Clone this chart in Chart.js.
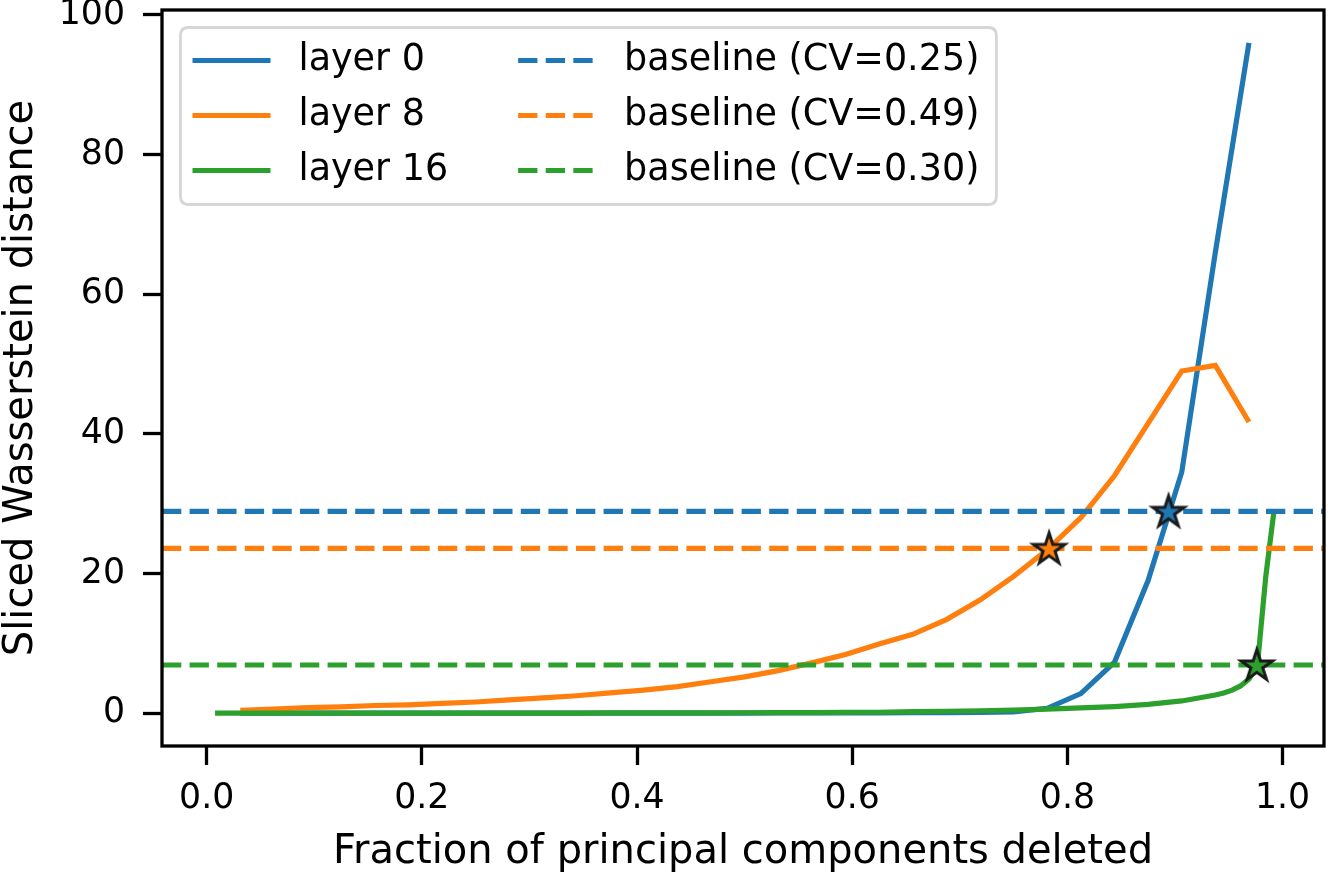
<!DOCTYPE html>
<html>
<head>
<meta charset="utf-8">
<script src="https://cdn.jsdelivr.net/npm/chart.js@4.4.1/dist/chart.umd.min.js"></script>
<style>
  body { margin: 0; background: #fff; }
  canvas { display: block; }
</style>
</head>
<body>
<canvas id="chart" width="1328" height="874"></canvas>
<script>
// ---- data ----
const xTicks = [0.0, 0.2, 0.4, 0.6, 0.8, 1.0];
const yTicks = [0, 20, 40, 60, 80, 100];

// layer 0 and layer 8 are sampled every 1/32
const xCoarse = [0.03125, 0.0625, 0.09375, 0.125, 0.15625, 0.1875, 0.21875, 0.25,
  0.28125, 0.3125, 0.34375, 0.375, 0.40625, 0.4375, 0.46875, 0.5,
  0.53125, 0.5625, 0.59375, 0.625, 0.65625, 0.6875, 0.71875, 0.75,
  0.78125, 0.8125, 0.84375, 0.875, 0.90625, 0.9375, 0.96875];
const layer0 = [0, 0, 0, 0, 0, 0, 0, 0,
  0, 0, 0, 0.01, 0.01, 0.01, 0.02, 0.02,
  0.03, 0.03, 0.04, 0.05, 0.06, 0.08, 0.1, 0.2,
  0.7, 2.8, 7.3, 19.0, 34.5, 66.0, 96.0];
const layer8 = [0.4, 0.6, 0.8, 0.9, 1.1, 1.2, 1.4, 1.6,
  1.9, 2.2, 2.5, 2.9, 3.3, 3.8, 4.5, 5.2,
  6.1, 7.2, 8.4, 9.9, 11.3, 13.4, 16.2, 19.6,
  23.4, 28.0, 34.0, 41.5, 49.0, 49.8, 41.7];

// layer 16 is finer near the end
const xGreen = [0.0078, 0.03125, 0.0625, 0.09375, 0.125, 0.15625, 0.1875, 0.21875,
  0.25, 0.28125, 0.3125, 0.34375, 0.375, 0.40625, 0.4375, 0.46875,
  0.5, 0.53125, 0.5625, 0.59375, 0.625, 0.65625, 0.6875, 0.71875,
  0.75, 0.78125, 0.8125, 0.84375, 0.875, 0.90625, 0.9375, 0.9453,
  0.9531, 0.9609, 0.9688, 0.9766, 0.9844, 0.9922];
const layer16 = [0, 0, 0, 0, 0, 0, 0, 0.01,
  0.01, 0.01, 0.02, 0.02, 0.03, 0.03, 0.04, 0.05,
  0.06, 0.07, 0.09, 0.11, 0.13, 0.22, 0.28, 0.35,
  0.45, 0.58, 0.75, 0.95, 1.25, 1.75, 2.6, 2.9,
  3.3, 3.9, 4.9, 6.8, 19.6, 29.2];

const seriesNames = ['layer 0', 'layer 8', 'layer 16'];
const baselineNames = ['baseline (CV=0.25)', 'baseline (CV=0.49)', 'baseline (CV=0.30)'];
const baselines = [28.9, 23.6, 6.9];
const crossX = [0.894, 0.783, 0.976];   // where each curve meets its baseline

const X_MIN = -0.0415, X_MAX = 1.0385;
const Y_MIN = -4.7, Y_MAX = 100.7;

const colors = ['#1f77b4', '#ff7f0e', '#2ca02c'];
const FONT = 'DejaVu Sans';
const LW = 5.2;
const SPINE = 3.3;

function pts(xs, ys) {
  return xs.map((x, i) => ({ x: x, y: ys[i] }));
}

// filled five point star used as point style
function starImage(fill) {
  const c = document.createElement('canvas');
  c.width = 42; c.height = 42;
  const g = c.getContext('2d');
  const R = 16.5, r = R * 0.382;
  g.beginPath();
  for (let i = 0; i < 10; i++) {
    const rad = i % 2 === 0 ? R : r;
    const a = -Math.PI / 2 + i * Math.PI / 5;
    const px = 21 + rad * Math.cos(a), py = 22 + rad * Math.sin(a);
    if (i === 0) g.moveTo(px, py); else g.lineTo(px, py);
  }
  g.closePath();
  g.fillStyle = fill;
  g.fill();
  g.lineWidth = 3;
  g.lineJoin = 'miter';
  g.strokeStyle = '#1a1a1a';
  g.stroke();
  return c;
}

const curves = [pts(xCoarse, layer0), pts(xCoarse, layer8), pts(xGreen, layer16)];
const datasets = [];

curves.forEach((d, i) => {
  datasets.push({
    type: 'line',
    label: seriesNames[i],
    data: d,
    borderColor: colors[i],
    borderWidth: LW,
    pointRadius: 0,
    fill: false,
    tension: 0,
    order: 10 - i,
    legendCol: 0,
    legendRow: i
  });
});

baselines.forEach((b, i) => {
  datasets.push({
    type: 'line',
    label: baselineNames[i],
    data: [{ x: X_MIN, y: b }, { x: X_MAX, y: b }],
    borderColor: colors[i],
    borderWidth: LW,
    borderDash: [19.3, 8.3],
    pointRadius: 0,
    fill: false,
    order: 5,
    legendCol: 1,
    legendRow: i
  });
});

baselines.forEach((b, i) => {
  datasets.push({
    type: 'scatter',
    label: 'cross ' + i,
    data: [{ x: crossX[i], y: b }],
    pointStyle: starImage(colors[i]),
    pointRadius: 17,
    order: 0
  });
});

// box around the plot area
const framePlugin = {
  id: 'frame',
  afterDatasetsDraw(chart) {
    const a = chart.chartArea, ctx = chart.ctx;
    ctx.save();
    ctx.strokeStyle = '#000';
    ctx.lineWidth = SPINE;
    ctx.strokeRect(a.left, a.top, a.right - a.left, a.bottom - a.top);
    ctx.restore();
  }
};

// two column legend like matplotlib's ncol=2
const legendPlugin = {
  id: 'mplLegend',
  afterDraw(chart) {
    const ctx = chart.ctx, a = chart.chartArea;
    const items = chart.data.datasets.filter(d => d.legendCol !== undefined);
    const fs = 36.5;
    ctx.save();
    ctx.font = fs + 'px "' + FONT + '"';
    const left = a.left + 18.5, top = a.top + 17.5;
    const pad = 12, handleLen = 78, handleGap = 28, colGap = 70, rowH = 55;
    const colX = [];
    let x = left + pad;
    for (let c = 0; c < 2; c++) {
      colX.push(x);
      const w = Math.max(...items.filter(d => d.legendCol === c).map(d => ctx.measureText(d.label).width));
      x += handleLen + handleGap + w + (c === 0 ? colGap : 0);
    }
    const boxW = x + 17 - left;
    const boxH = 177;
    // frame
    const rr = 8;
    ctx.beginPath();
    ctx.moveTo(left + rr, top);
    ctx.lineTo(left + boxW - rr, top);
    ctx.quadraticCurveTo(left + boxW, top, left + boxW, top + rr);
    ctx.lineTo(left + boxW, top + boxH - rr);
    ctx.quadraticCurveTo(left + boxW, top + boxH, left + boxW - rr, top + boxH);
    ctx.lineTo(left + rr, top + boxH);
    ctx.quadraticCurveTo(left, top + boxH, left, top + boxH - rr);
    ctx.lineTo(left, top + rr);
    ctx.quadraticCurveTo(left, top, left + rr, top);
    ctx.closePath();
    ctx.fillStyle = 'rgba(255,255,255,0.8)';
    ctx.fill();
    ctx.strokeStyle = '#d6d6d6';
    ctx.lineWidth = 2.8;
    ctx.stroke();
    // entries
    items.forEach(d => {
      const cx = colX[d.legendCol];
      const cy = top + 33 + d.legendRow * rowH;
      ctx.beginPath();
      ctx.setLineDash(d.borderDash || []);
      ctx.strokeStyle = d.borderColor;
      ctx.lineWidth = LW;
      ctx.moveTo(cx, cy);
      ctx.lineTo(cx + handleLen, cy);
      ctx.stroke();
      ctx.setLineDash([]);
      ctx.fillStyle = '#000';
      ctx.textBaseline = 'middle';
      ctx.textAlign = 'left';
      ctx.fillText(d.label, cx + handleLen + handleGap, cy);
    });
    ctx.restore();
  }
};

// fixed axis sizes, and no extra room for overhanging tick labels
function fixSize(scale, w, h) {
  if (w !== null) scale.width = w;
  if (h !== null) scale.height = h;
  scale.paddingTop = 0;
  scale.paddingBottom = 0;
  scale.paddingLeft = 0;
  scale.paddingRight = 0;
}

new Chart(document.getElementById('chart').getContext('2d'), {
  data: { datasets: datasets },
  options: {
    responsive: false,
    devicePixelRatio: 1,
    animation: false,
    layout: { autoPadding: false, padding: { left: 0, right: 4, top: 10, bottom: 0 } },
    plugins: {
      legend: { display: false },
      tooltip: { enabled: false }
    },
    scales: {
      x: {
        type: 'linear',
        min: X_MIN,
        max: X_MAX,
        afterBuildTicks: axis => { axis.ticks = xTicks.map(v => ({ value: v })); },
        afterFit: scale => fixSize(scale, null, 128),
        ticks: {
          color: '#000',
          font: { family: FONT, size: 34.7 },
          padding: 13,
          maxRotation: 0,
          callback: v => v.toFixed(1)
        },
        grid: { drawOnChartArea: false, drawTicks: true, tickLength: 19, tickWidth: SPINE, tickColor: '#000' },
        border: { display: false },
        title: {
          display: true,
          text: 'Fraction of principal components deleted',
          color: '#000',
          font: { family: FONT, size: 40 },
          padding: { top: 0, bottom: -3 }
        }
      },
      y: {
        type: 'linear',
        min: Y_MIN,
        max: Y_MAX,
        afterBuildTicks: axis => { axis.ticks = yTicks.map(v => ({ value: v })); },
        afterFit: scale => fixSize(scale, 162, null),
        ticks: {
          color: '#000',
          font: { family: FONT, size: 34.7 },
          padding: 18,
          callback: v => String(v)
        },
        grid: { drawOnChartArea: false, drawTicks: true, tickLength: 19, tickWidth: SPINE, tickColor: '#000' },
        border: { display: false },
        title: {
          display: true,
          text: 'Sliced Wasserstein distance',
          color: '#000',
          font: { family: FONT, size: 40 },
          padding: { top: -2, bottom: 0 }
        }
      }
    }
  },
  plugins: [framePlugin, legendPlugin]
});
</script>
</body>
</html>
